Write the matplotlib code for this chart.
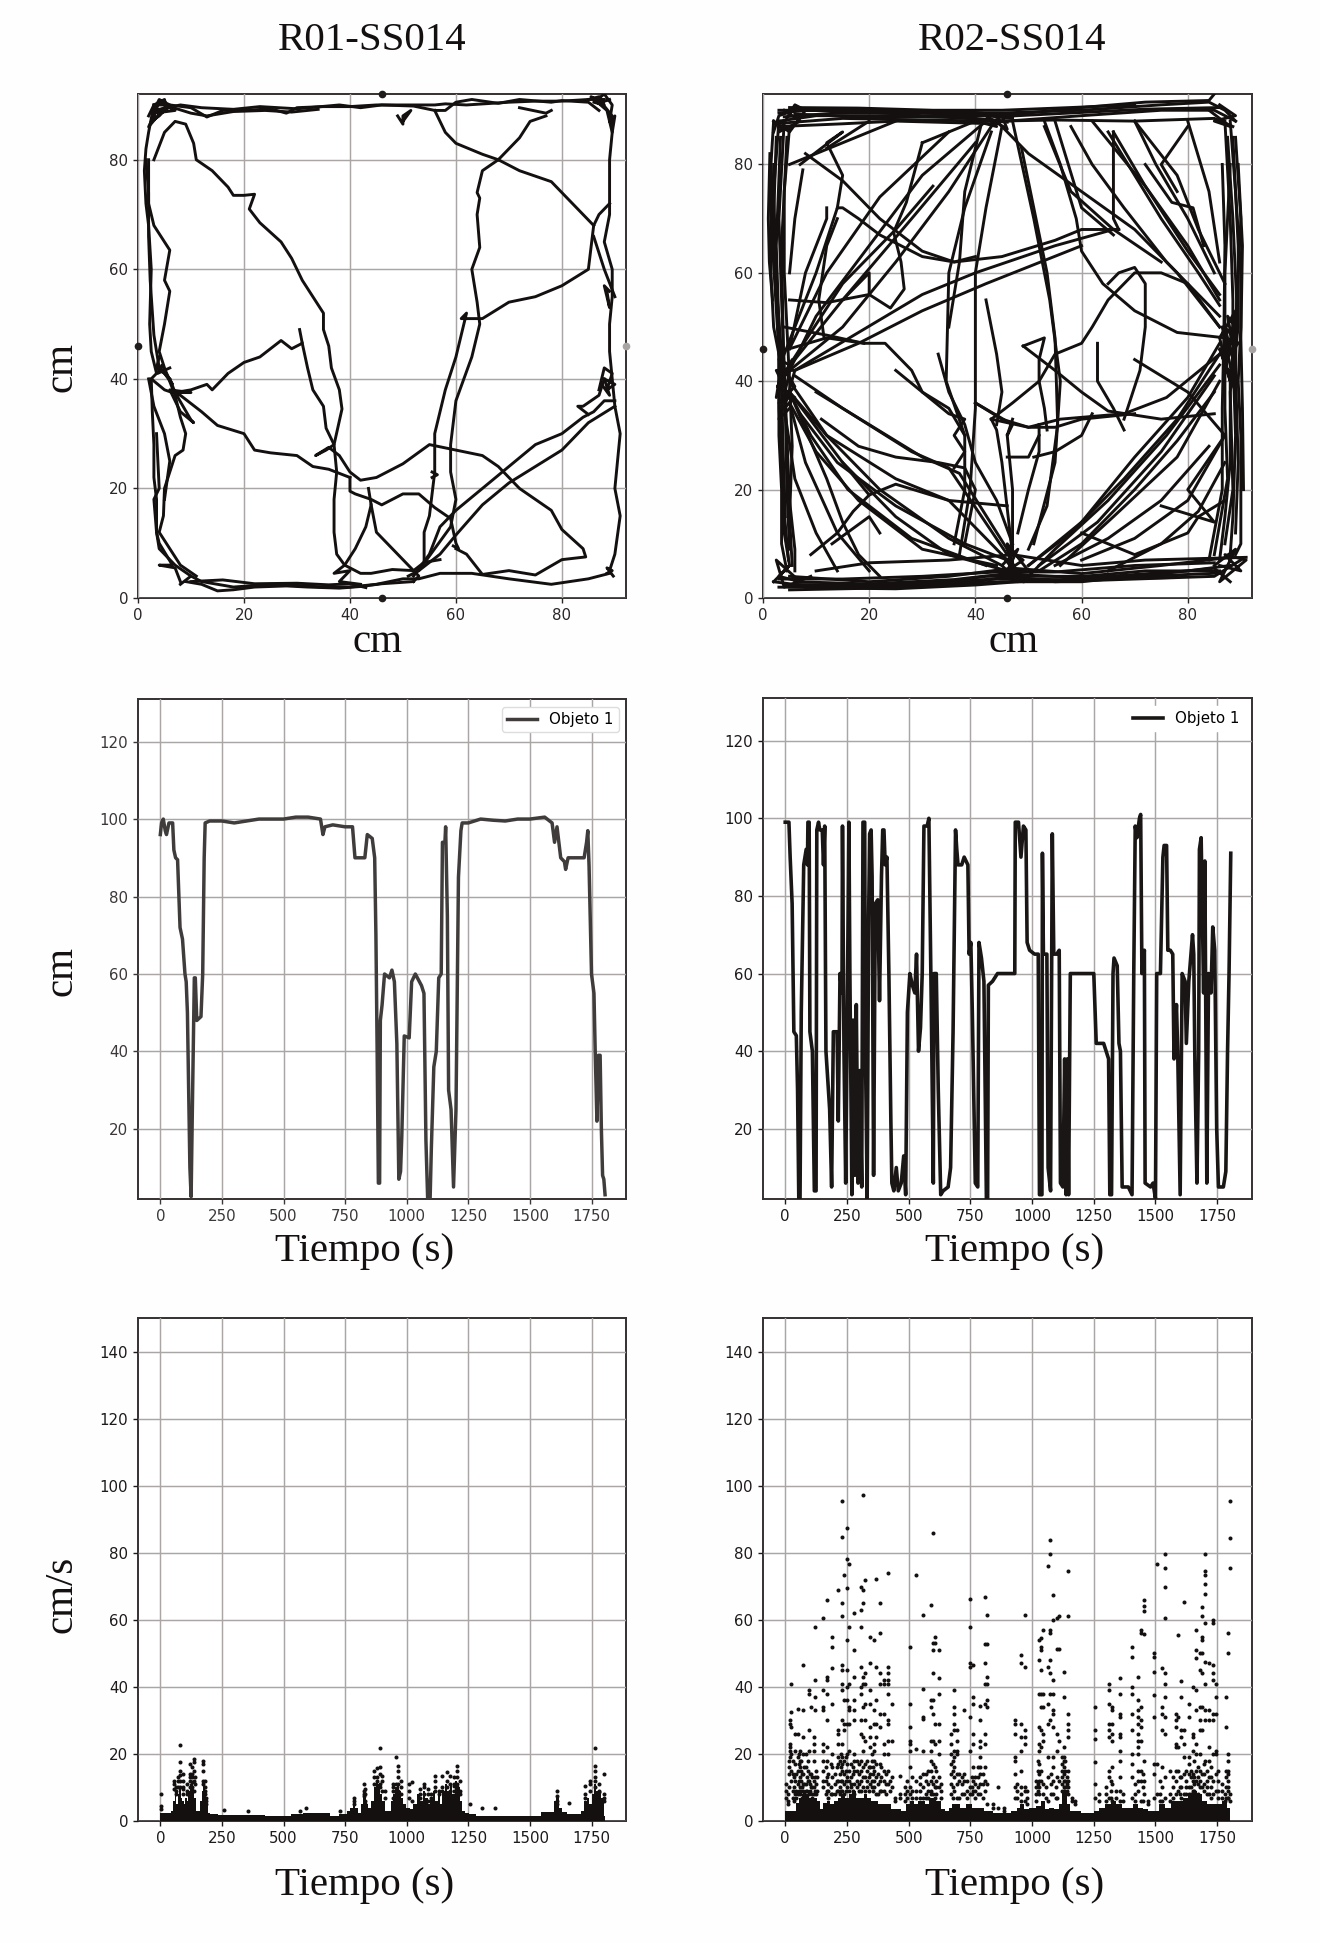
import matplotlib
matplotlib.use("Agg")
import matplotlib.pyplot as plt
import numpy as np

W, H = 1320, 1943
SERIF = ["Liberation Serif", "DejaVu Serif"]

titles = ["R01-SS014", "R02-SS014"]
time_ticks = [0, 250, 500, 750, 1000, 1250, 1500, 1750]
legend_label = "Objeto 1"

# ---------- R01 arena trajectory (cm) ----------
r01_top = [
    [(3,90),(6,90),(10,89.5),(13,87.8),(16,89),(20,89),(25,89.3),(28,88.5),(30,89.5),(35,89.7),(40,89.7),(45,90),(50,90),(53,90),(56,90),(58,90.2),(62,90),(70,90.5),(75,90.7),(80,90.7),(85,91),(88,91)],
    [(3,89),(8,90),(12,89.5),(18,89.2),(23,89.7),(30,89.3),(38,90),(42,89.5),(46,90),(52,89.8),(56,89),(58,89),(60,90.5),(63,91),(68,90.3),(72,91),(78,90.5),(80,90.8),(85,90.5),(87,89)],
    [(2,88),(3,90),(5,91),(5.5,89),(3,89),(4,91),(6,90),(4,88),(2.5,87),(4,90.5),(7,89),(3,88.5),(5,89.5),(2,86),(3,88)],
    [(85,91),(87,91.5),(88,90),(86,90.5),(88,92),(89.5,90),(89,87),(90,88),(89.5,85),(88.5,89),(85.5,91.5),(87.5,90.5),(89,91)],
    [(49,88),(50,86.5),(50,88),(51.5,89),(50,87)],
    [(72,89.5),(77,88.5),(78,89)],
    [(5,90),(10,88.5),(13,88),(18,88.8),(24,89),(29,88.7),(34,89.2)],
]
r01_edges = [
    [(3,90),(2,85),(1.5,82),(1.2,78),(1.5,72),(2,68),(2.5,60),(2.2,50),(2.5,45),(3.5,41),(2.5,40),(2.7,34),(3,28),(3,22),(3.5,18),(3.5,12),(4,9),(7,6),(10,4),(8,2.5)],
    [(2,80),(2,72),(3,68),(6,63.5),(5,58),(6,56),(5,50),(4,45),(5,42),(7,37),(8,33),(9,30),(8.5,27),(7,26),(5,20),(4.8,15),(4,12),(6,9),(8,6),(11,4)],
    [(1.5,80),(2,74),(2,66),(2.3,58),(3,48),(4,42),(6,40)],
    [(3.5,30),(4,20),(3,18),(3.5,12),(4,10),(6.5,6),(4,6),(7,5.5),(8,3)],
    [(10,4),(12,3),(18,2),(25,2.5),(30,2.3),(35,2),(40,2),(45,2.5),(50,3.5),(53,3.5),(57,4.5),(63,4.5),(70,3.5),(78,2.5),(85,3.5),(89,4.5)],
    [(9,3),(12,2.5),(15,1.3),(18,1.5),(22,2),(28,2.2),(32,2),(38,1.8),(42,2.1),(46,2.6),(52,3)],
    [(10,3),(16,3.3),(22,2.6),(30,2.7),(36,2.4),(40,2.6),(43,1.9)],
    [(89,5),(90,8),(91,15),(90,20),(91,30),(90,35),(89.5,40),(89,45),(89,50),(89.5,55),(89.5,60),(88,65),(89,70),(89,80),(89.5,85),(89.5,88),(87,91)],
    [(88.5,4.5),(89.5,5),(88.5,5.5),(89.7,4)],
    [(89,56),(88,57),(88.5,55),(89,53),(88.5,56)],
    [(87,38),(88,42),(89.5,41),(88.5,38),(90,39),(88,40),(89,37),(87.5,39)],
    [(4,44),(3.5,42),(5,41),(6.5,39),(4.5,42.5),(3.7,41),(6,42)],
]
r01_inner = [
    [(3,80),(5,85),(7,87),(9,86.5),(10.5,83),(11,80),(14,78),(17,75),(18,73.5),(20,73.5),(22,73.7),(21,71),(23,68.5),(27,65),(29,62),(31,58),(33,55),(35,52),(35,49),(36,46),(36.5,42),(38,38),(38.5,34.5),(37,28),(35.5,27),(33.5,26),(36,27.5),(38,26),(40,23),(42,21.5),(45,22),(50,24.5),(55,28),(60,27),(65,26),(68,24),(72,20),(78,16),(80,12.5),(84,9),(84.5,7.5),(80,7),(75,4.2),(70,5),(65,4.3),(62,8),(60,9)],
    [(4,42),(6,40),(7,37.5),(10,32.5),(10.5,32),(8,34),(6,38),(10,37.5),(7,37.5),(10,38),(13,39),(14,38),(17,41),(20,43),(23,44),(27,47),(29,45.5),(31,46.5),(30.5,49)],
    [(2.5,40),(5,38),(8,37),(12,34),(15,31.5),(20,30),(22,27),(25,26.5),(30,26),(33,24),(36,23.5),(40,22)],
    [(31,46.5),(32,42),(33,38),(35,35),(35.5,31),(37,28),(37.5,23),(37,18),(37,12),(37.5,8),(39,6),(42,4.5),(44,4.5),(48,5.2),(52,5),(54,6.5),(57,7)],
    [(40,22),(40,19.5),(41,19),(44,18),(46,17),(50,19),(53,19),(56,16.5),(59,14.5),(60,10),(60.5,9),(59.5,9.5)],
    [(43.5,20),(44,17),(43,13),(41,9),(39,6),(37,4.5),(40,5),(38,3),(42,2.5)],
    [(44,17),(45,12),(48,9),(51,6),(53,4),(52,3)],
    [(90,36),(88,36),(86,34),(84,33),(80,30),(75,28),(70,24),(65,20),(60,16),(57,13),(55,8),(52,4)],
    [(90,35),(85,32),(80,27),(75,24),(70,21),(65,17),(60,11.5),(57,8),(53,5)],
    [(88,40),(87,37),(84,35),(83,35),(85,33.5)],
    [(54,7),(54,12),(55,15),(56,23),(56,30),(58,38),(60,44),(62,52),(61,51),(65,51),(70,54),(75,55),(80,57),(85,60),(86,68),(87,70),(89,72)],
    [(86,68),(80,74),(78,76),(72,78),(70,79),(68,80),(65,81),(60,83),(58,85),(56,89)],
    [(68,80),(72,84),(74,87),(77,88)],
    [(68,80),(65,78),(64,74),(64.5,73),(64,70),(64.5,64),(63,60),(64,54),(64.5,50),(63,44),(60,36),(59,28),(59,23),(60,18),(59,13),(56,9),(53,5),(51,4)],
    [(86,66),(88,60),(90,55)],
    [(55.5,23),(56.5,22.5),(55.5,22)],
    [(2,40),(3,35),(5,30),(6,25),(5,18)],
]

# ---------- R02 arena trajectory (cm) ----------
r02_edges = [
    [(2,86),(3,89),(6,90),(20,89.8),(35,89.5),(45,89.5),(60,90),(75,91),(84,91.5),(87,90),(89,88)],
    [(3,88),(10,89),(25,89),(40,88.5),(46,88),(60,89),(75,90),(85,90),(89,88)],
    [(2,87.5),(15,88.5),(30,88.2),(44,88),(55,88.2),(70,88),(85,88.5),(88.5,87)],
    [(3,90),(15,90),(30,89),(45,89),(60,90.5),(72,91.5),(84,91.8),(85,93)],
    [(2,88),(1.5,80),(1.5,70),(1.5,60),(2,50),(3,45),(3,40),(3,30),(3.5,20),(3.5,10),(4.5,5)],
    [(3,88),(2,75),(2.5,60),(3,48),(3.5,40),(3.5,25),(4,12),(5,6)],
    [(4,88),(3,70),(3.5,55),(4,42),(4.5,30),(5,18),(6,9),(6,5)],
    [(5,87),(4,75),(4,60),(4.5,50),(5,40),(5.5,28),(5,15),(5.5,6)],
    [(2,3),(10,2),(25,2.2),(40,3),(47,4),(55,3),(70,3.5),(85,4),(90,7)],
    [(3,2),(15,2),(30,2.5),(42,4),(50,4),(65,4),(80,5),(88,6)],
    [(5,1.5),(20,1.8),(35,2.5),(45,3),(60,3),(75,4.5),(85,5.5),(88,3)],
    [(5,4),(20,3),(35,4),(47,5.5),(60,4.5),(75,6),(88,7.5)],
    [(10,5),(20,6.5),(35,7),(47,8),(60,6),(72,7),(91,7.5)],
    [(88,88),(89,75),(90,60),(90,50),(89.5,40),(90,30),(90,20),(90,10),(89,8)],
    [(87,88),(88,70),(88.5,55),(88.5,45),(89,30),(88.5,15),(88,8)],
    [(89,85),(90,70),(89,50),(88,40),(88,25),(87,15),(86,7)],
    [(88,80),(87,60),(87,50),(87,35),(87.5,22),(85,8)],
    [(3,89.5),(12,90.3),(25,90),(38,89.8),(46,89)],
    [(4,88.8),(14,89.5),(28,89.5),(40,89.2),(47,88.5)],
    [(3,87),(15,87.5),(25,88),(44,87.5)],
    [(5,90.5),(18,90.4),(32,90),(45,90),(58,90.5),(70,91)],
    [(6,89.3),(20,88.7),(35,88.8),(46,87.8)],
    [(44,88.8),(58,89.5),(72,90.2),(86,90.5)],
    [(2.5,85),(2,70),(2.7,55),(3.5,45),(3.7,30),(4.2,15)],
    [(3.3,85),(2.5,65),(3,50),(3,35),(3.8,18),(4.8,7)],
    [(4.5,85),(3.5,65),(3.8,48),(4.2,35),(4.5,20),(5,9)],
    [(1.3,82),(1,70),(1.2,62),(1.8,55)],
    [(2,80),(1.8,65),(3,45)],
    [(4,2.5),(18,2.4),(32,3),(44,3.5),(56,3.4),(72,4),(86,4.6)],
    [(6,3),(20,2.6),(36,3.4),(46,4.5),(58,3.8),(72,5),(86,5)],
    [(8,1.9),(25,1.7),(40,2.4),(48,3),(62,3.5),(78,3.8)],
    [(3,3.5),(15,3.5),(30,4),(44,4.8),(55,4.8),(70,6),(85,6.5)],
    [(87.5,85),(88.5,70),(89.2,55),(89,42),(89.5,25),(89,12)],
    [(88.5,85),(89.5,65),(89.5,50),(88,38),(88.5,20),(87,10)],
    [(89.5,80),(90.3,65),(90,48),(90.3,35),(90.5,20)],
    [(86.5,80),(87,65),(86.8,48),(86.5,35),(86.5,20),(84,7)],
    [(3,40),(2.5,37),(5,43),(3,44),(6,39),(3,36),(5,37),(2.5,42),(6,42),(4,35),(6,37),(2.7,39),(5.5,44),(3,33),(5,35)],
    [(87,48),(89,44),(87.5,52),(89,50),(87,44),(89.5,47),(87,50),(89,42),(87,42),(89,53),(86,48),(88,40),(86,46),(89,38),(86.5,50)],
    [(45,8),(48,4),(46,9),(49,7),(46,5),(48,9),(45,6),(48,3),(44,5),(50,5),(46,10),(47,4),(44,4),(49,3)],
    [(2,3),(5,6),(3,4),(7,3),(2.5,7),(4,2),(9,4)],
    [(86,6),(90,5),(87,8),(91,7),(86,3),(89,9),(85,6)],
    [(4,90),(7,88),(3,86),(6,91),(8,90),(5,86),(2,88)],
    [(84,90),(88,87),(85,88),(89,89),(86,91)],
    [(40,88),(44,87),(42,89),(46,86.5),(45,89),(43,87.5)],
]
r02_left_fan = [
    [(5,42),(15,50),(25,62),(35,75),(43,87)],
    [(5,42),(10,52),(20,65),(30,78),(42,88)],
    [(6,42),(18,49),(30,56),(40,60),(55,65),(66,68)],
    [(6,42),(18,47),(30,53),(42,58),(60,65)],
    [(5,43),(15,58),(25,68),(32,76)],
    [(5,46),(12,60),(22,74),(35,86)],
    [(6,44),(15,55),(28,70),(40,84)],
    [(4,45),(10,60),(14,72),(15,72),(18,70),(22,67),(30,63),(36,62),(40,63)],
    [(5,46),(8,60),(12,70),(12,72)],
    [(4,50),(12,48.5),(19,47),(23,47),(28,42),(30,38),(35,35),(38,30)],
    [(5,38),(15,25),(25,15),(35,8),(46,5)],
    [(5,38),(12,30),(22,20),(35,11),(45,6)],
    [(5,36),(10,27),(18,18),(30,9),(44,6)],
    [(6,36),(9,30),(16,20),(28,11),(42,6)],
    [(7,34),(14,25),(25,17),(38,10),(46,7)],
    [(5,36),(8,25),(14,12),(20,5)],
    [(4,35),(6,22),(10,12),(14,5)],
    [(5,38),(12,22),(15,14),(18,8),(22,4)],
    [(6,41),(15,35),(28,27),(35,24),(46,8)],
    [(5,40),(12,30),(25,22),(35,18),(46,7)],
    [(5,55),(12,54.5),(20,56),(20,60),(15,55)],
    [(5,46),(12,48),(19,47)],
]
r02_right_fan = [
    [(86,47),(80,37),(70,26),(60,14),(50,6)],
    [(86,45),(78,33),(68,22),(58,12),(50,6)],
    [(86,43),(76,30),(65,18),(55,9),(50,4)],
    [(86,40),(78,26),(66,15),(56,6)],
    [(85,41),(75,27),(63,14),(52,6)],
    [(85,38),(78,29),(70,20),(60,10),(52,5)],
    [(84,28),(75,18),(65,11),(55,6)],
    [(87,30),(80,18),(70,11),(60,7)],
    [(87,25),(82,16),(75,10),(65,5)],
    [(86,45),(76,37),(68,34),(56,33),(50,31.5),(43,33)],
    [(86,50),(78,60),(70,68),(60,75),(50,82),(44,88)],
    [(86,52),(76,62),(68,72),(62,80),(58,87)],
    [(86,54),(82,60),(75,70),(70,78),(65,86)],
    [(86,56),(80,64),(72,76),(66,86)],
    [(85,60),(80,70),(74,80),(70,88)],
    [(87,48),(78,49),(70,53),(64,58),(60,64),(59,70),(56,80),(53,88)],
    [(70,88),(78,78),(82,68),(87,58)],
    [(62,88),(72,76),(80,65),(86,55)],
    [(80,88),(84,75),(86,62)],
    [(60,12),(70,8),(80,12),(82,15),(87,18)],
    [(75,17),(85,14),(80,20),(87,30),(80,38),(70,44)],
]
r02_inner = [
    [(47,8),(45,25),(44,31),(43,33)],
    [(47,10),(44,18),(40,25),(38,32),(35,38),(33,45)],
    [(48,12),(50,20),(52,27),(52,32)],
    [(47,9),(47,20),(46,30)],
    [(41,87),(38,75),(37,62),(35,50)],
    [(48.7,83),(53.5,60),(55,48),(55.5,32),(53.5,17),(50,9)],
    [(47,88),(51,70),(54,55),(56,40),(55,25),(51,10)],
    [(43,86),(38,72),(35,60),(34.5,40),(38,30),(38,20),(36,10)],
    [(45,87),(42,72),(40,60),(40,50),(40,35),(39,20),(37,8)],
    [(42,55),(44,45),(45,38),(44,32)],
    [(49,46.5),(53,48),(52,44),(52,40),(53,35),(53.5,31)],
    [(49,46.5),(55,42),(60,38),(65,34.5),(75,33),(85,34)],
    [(43,33),(47,36),(52,40),(55,45),(60,47),(62,50),(65,55),(68,58),(70,60),(75,60),(80,58),(86,50)],
    [(65,58),(67,60),(70,61),(72,58),(72,50),(71,42),(68,33)],
    [(63,47),(63,40),(66,35),(68,31)],
    [(40,36),(45,33),(50,31.5),(55,31.5),(60,33),(70,34)],
    [(51,26),(55,27),(60,30),(62,34)],
    [(8,82),(15,77),(22,70),(30,64),(36,62),(45,63),(55,66),(60,68),(67,68)],
    [(7,80),(15,86),(12,84),(15,78),(14,72)],
    [(7.5,79),(6,70),(5,60)],
    [(10,38),(20,32),(30,26),(37,23),(46,9)],
    [(11,33),(18,28),(25,26),(33,25),(38,24),(40,20),(38,10)],
    [(15,25),(20,19),(25,21),(35,18),(46,17)],
    [(20,19),(17,16),(14,12),(9,8)],
    [(30,84),(27,73),(24.6,67.5),(26,62),(26.6,57),(24,53.5),(20,56)],
    [(30,84),(40,88)],
    [(11.5,48),(10.5,55),(12,65),(14,70)],
    [(66,86),(66,70),(67,68)],
    [(55,88),(60,72),(66,67)],
    [(53,87),(58,75),(66,68),(75,62)],
    [(72,80),(77,73),(81,72),(83,65)],
    [(80,87),(75,80),(78,75)],
    [(46,26),(50,26),(52,30)],
    [(40,36),(47,32),(46,30),(47,33)],
    [(5,80),(15,84),(25,88)],
    [(12,83),(20,88)],
    [(25,42),(30,38),(35,34),(38,33),(36,30),(38,27),(36,24)],
    [(13,10),(20,15),(22,12)],
]

# ---------- Distance to object 1 ----------
r01_dist_t = [0,5,12,20,25,35,50,55,62,70,80,90,100,105,110,115,120,125,130,138,142,148,165,172,178,182,200,250,300,350,400,450,500,550,600,650,660,668,700,750,780,790,830,840,860,870,875,880,885,890,893,900,910,930,940,950,960,968,975,980,990,1010,1020,1035,1060,1070,1078,1085,1095,1100,1110,1120,1130,1140,1145,1155,1158,1165,1170,1180,1190,1200,1210,1220,1225,1250,1300,1350,1400,1450,1500,1560,1590,1600,1610,1625,1640,1645,1655,1700,1720,1730,1735,1740,1750,1760,1765,1772,1778,1785,1790,1795,1800,1805]
r01_dist_v = [96,99,100,97,96,99,99,92,90,89.5,72,69,60,58,50,30,10,2.5,25,59,59,48,49,60,90,99,99.5,99.5,99,99.5,100,100,100,100.5,100.5,100,96,98,98.5,98,98,90,90,96,95,90,70,40,6,6,48,52,60,59,61,58,42,7,9,18,44,43.5,58,60,57,55,17,2,2,15,36,40,59,60,94,94,98,75,30,25,5,25,85,97,99,99,100,99.7,99.5,100,100,100.5,99,94,98,90,89,87,90,90,90,94,97,88,60,55,40,22,39,39,20,8,7,3]
r02_dist_t = [0,15,20,28,35,45,50,55,60,65,75,85,90,92,97,100,110,118,125,128,135,140,150,155,160,165,180,188,195,210,215,222,230,232,238,245,250,258,262,270,275,282,288,295,302,310,315,322,325,332,338,342,348,352,358,365,375,382,390,395,400,405,412,420,428,432,440,450,458,470,480,488,495,505,515,525,532,540,548,555,562,575,582,592,600,603,612,620,630,640,660,670,680,690,695,700,715,725,740,745,752,758,770,780,785,795,805,815,820,823,840,860,900,930,932,945,955,965,975,980,990,1010,1025,1030,1040,1042,1046,1060,1065,1075,1082,1088,1100,1110,1115,1125,1132,1138,1143,1148,1155,1200,1250,1260,1290,1300,1310,1315,1322,1328,1332,1345,1352,1358,1365,1390,1405,1412,1418,1425,1435,1440,1445,1455,1458,1480,1490,1500,1505,1520,1530,1535,1545,1550,1560,1570,1575,1585,1590,1600,1608,1620,1625,1635,1650,1655,1660,1668,1675,1678,1685,1695,1700,1708,1715,1725,1732,1740,1748,1755,1775,1785,1792,1798,1805]
r02_dist_v = [99,99,90,78,45,44,30,2,2,50,88,92,88,99,99,45,40,4,4,97,99,97,97,88,98,40,25,5,45,45,22,60,55,98,40,6,40,99,60,3,48,8,52,6,35,5,99,99,40,2,75,96,97,85,8,78,79,53,85,97,97,88,90,60,22,6,4,10,4,6,13,3,50,60,57,55,65,40,46,60,98,98,100,50,6,60,60,30,3,4,5,10,45,97,92,88,88,90,88,65,68,50,6,5,68,64,58,2,2,57,58,60,60,60,99,99,90,98,97,68,66,65,65,3,3,91,65,65,10,4,96,65,65,66,6,5,38,3,38,3,60,60,60,42,42,40,38,3,3,60,64,62,42,40,5,5,3,60,98,95,100,101,60,66,6,5,6,2,60,60,90,93,93,66,66,65,38,52,40,3,60,58,42,58,70,65,35,6,40,92,95,55,89,6,60,55,72,66,20,5,5,9,40,60,91]

# ---------- Speed: dense lower band, upper limit read every few seconds ----------
r01_band_t = [0,40,50,56,62,68,74,80,86,92,98,104,110,116,122,128,134,140,146,152,160,166,172,178,184,190,196,210,260,350,500,560,600,680,700,750,765,775,785,795,810,820,828,838,850,862,872,880,888,896,905,915,930,940,948,956,964,972,980,990,1005,1020,1035,1050,1060,1070,1080,1090,1100,1110,1120,1130,1140,1150,1160,1170,1180,1190,1200,1210,1220,1230,1245,1260,1300,1500,1590,1602,1612,1622,1640,1660,1700,1715,1725,1735,1745,1755,1765,1775,1785,1795,1805]
r01_band_v = [2.5,2.5,3,6,8,5,8,10,7,6,5,7,6,9,11,12,10,7,3,3,3,6,9,11,8,5,2.5,2,1.8,1.8,1.6,2.2,2.4,2.4,1.5,2.2,3,4,5.5,4,2.5,5,8,5,4,6,10,12,11,8,6,3,3,6,8,10,11,9,7,5,4,3.5,5,8,6,9,7,5,7,9,6,8,5,9,11,9,11,8,12,10,6,3,2.5,2,1.6,1.4,2.6,6,7,4,2.8,2,2,3,6,7,5,8,11,9,8,7,1.5]
r02_band_t = [0,40,50,60,75,90,105,120,135,150,160,175,190,205,220,235,250,265,280,295,310,325,340,355,370,385,400,420,440,460,480,500,515,530,545,560,575,590,605,620,640,655,670,685,700,720,745,770,790,820,860,900,930,945,960,975,1000,1030,1045,1060,1080,1100,1115,1125,1135,1145,1160,1240,1260,1285,1310,1330,1350,1375,1400,1420,1440,1460,1480,1500,1525,1550,1575,1600,1620,1640,1660,1680,1700,1720,1740,1760,1780,1800]
r02_band_v = [3,3,5.5,7,8,8,7,7,6,3.5,5.5,6,5,6,7,8,7,8,9,7,7,8,7,6,6,5,5,5,3.5,3.5,3,5,6,5,6,6,5,7,7,6,3.5,3,4,5,5,4,5,4,4,3,2.5,2.5,3,4,5,3.5,4,4.5,6,3.5,4,3.5,5,9,9,5,3,2.5,3,4,5,6,5,4,4,5,4,3.5,3,3,5,4,6,6,7,8,9,8,6,5,5,5,6,4]

# (time, speeds) columns
r01_cols = [
    (2,[8.2,4.5,3.5]),(55,[9.5,12,11]),(62,[8,10,9]),(72,[10,13,12]),(80,[22.7,17.5,15,13.8,12,10]),(92,[12,9.5,8,14,10]),
    (108,[9,11,8]),(120,[17,14,12,10,13]),(128,[16,14,13,11.5,10]),(135,[18.5,15,12,9,17.5]),(140,[11,13]),
    (175,[17.8,17,15,12,11]),(180,[10,12,9,8]),(186,[7,5,6]),(258,[3.2]),(355,[3]),(565,[3]),(590,[3.8]),(730,[3]),
    (785,[7,6,5]),(825,[11,9,8,7.5]),(832,[8,6,5,9.5]),(868,[15,13,11]),(878,[15.7,13,12,10]),(890,[21.7,16,14,11,10]),(900,[13.5,12,9]),(912,[9,7]),
    (945,[10,9,7,11]),(955,[19.2,11,9,8]),(965,[16.5,15,13,11,9]),(975,[12,10,8]),(1010,[7,11,9]),(1020,[11.5,6]),
    (1055,[8,9.5,7]),(1070,[11,10,8]),(1085,[9.5,8,6]),(1100,[8,7]),(1115,[10,9,13.5,12]),(1130,[9,8]),(1145,[13.5,10,9]),
    (1165,[14.5,12,10]),(1175,[13.5,11,9]),(1190,[10.5,13,11,9]),(1205,[16.5,15,13,11,10]),(1215,[12,9,8]),(1255,[5.2]),(1305,[4]),(1360,[3.8]),
    (1610,[8.8,7.5,6,5]),(1660,[5.5]),(1725,[8,7,10.5]),(1745,[11,9,12]),(1765,[21.7,16.5,15,13,12,10]),(1780,[11,9,8.5]),(1800,[14,8,7,6]),
]
r02_cols = [
    (5,[7,9,11]),(15,[10,14,16,18]),(20,[22,23,19,21,30,29]),(25,[32.5,41,28,20,15,12]),(30,[18,14,9,7]),(40,[21,17,12,8,26]),(50,[33.5,26,19,15,11,8]),
    (60,[21,18,16,13,10,8]),(72,[46.5,25,33,20,14,11,9]),(85,[11,9,16,20]),(95,[39,38,27,21,12,8]),(105,[34,14,10]),(118,[25,23,21,18,12,10,8]),
    (122,[57.8,42,37,33,13,9]),(155,[60.5,39,34,33,23,21,15,18,12,10]),(168,[66,43,42,38,30,22,18,13,9]),(190,[55,52,45.7,35,20,16,13,8]),
    (215,[69,27,26,23,19,17,12,9]),(232,[95.5,84.7,65,61,46.5,45,41,39,30,23,19,17,15,12,9]),(240,[73.5,36,29,27,18,14,11,8]),(252,[87.5,78,69.5,54,45,40,36,29,20,17,13,10]),
    (260,[76.5,58,41,34,33,29,21,15,12,9]),(280,[62,51,43,36,33,30,20,18,15,11,8]),(305,[69.8,63,58,46,40,38,30,26,18,15,12,9]),(315,[97.2,69,65,43,41,34,25,21,16,13,10]),
    (325,[72,44,41,35,30,24,17,13,9]),(345,[54.8,47,39,35,28,25,22,16,14,11]),(360,[54,33,29,23,21,18,15,12,10]),(368,[72.2,46,36,29,25,17,13,8]),(385,[65,56,44,41,32,28,17,12,9]),
    (400,[42,41,32,23,20,15,12,9]),(418,[74,46,44,42,41,38,30,29,24,20,15,11]),(432,[35,24,13,10]),(465,[13.5,8,7]),(505,[52,35,28,24,23,21,16,10,8]),
    (530,[73.5,21.5,12,9,7]),(558,[61.3,39.5,31,30.5,21,14,10,7]),(590,[64.5,36,34,24,21,18,15,12,9,8]),(600,[86,53,51,44,36,32,24,17,13,11,8]),(605,[55,53,29,23,16,10,7]),(622,[51,42.5,38,29,24,20,13,10]),
    (672,[26,23,20,17,14,11,8]),(685,[39,34,32,29,27,21,19,16,13,9]),(695,[21,27,24,20,14,11,7]),(725,[33,14,12,8]),(748,[66.3,58,47,46,31,21,10,8]),(760,[46.5,37,35,26,23,16,12,9]),
    (790,[34.3,30,24,22,19,16,14,11,8]),(810,[66.7,52.7,47,41,35,26,23,16,12,9]),(818,[61.3,52.7,43,41,36,34,11,5]),(860,[10,4]),(930,[30,29,26,19,18,14,10,7]),(955,[49.5,47,29,25,21,15,10,8,6]),
    (970,[61.5,46,27,25,23,10,9,6]),(1030,[54,48,38,28,23,21,17,14,12,10,8]),(1038,[54.5,52,51,45,38,34,27,22,15,12]),(1045,[57,38,34,26,24,11,8]),(1065,[76,46,35,29,19,13,6]),(1072,[83.8,79.5,57,56,48,44,38,30]),
    (1085,[67.5,60,42,38,33,32,28,19,16,12,8]),(1100,[60.5,51.3,26,21,13,7]),(1108,[61,51.3,24,12]),(1130,[44.5,37,22,19,18,16,14,12,10,9]),(1145,[74.5,61,32,29,27,25,15,12,10,8]),(1175,[6,5]),
    (1255,[34,27,24.5,17.5,11,7]),(1310,[41,39,35,29,27,25,15,13,7]),(1325,[34,33,29,26,24,16,11,6]),(1355,[42.5,38,32,31,26,25,21,18,13,9,6]),(1405,[52,49,40,38,32,27,20,17,13,7]),(1430,[43,36,33,31,29,26,24,22,20,15,12,9]),
    (1440,[57,56,34,30,28,24,15,12,6]),(1455,[66,64,62.5,55.8,18,12,8]),(1495,[50,49,44.5,37.5,31,17,14,7]),(1505,[76.5,17,8]),(1525,[45.5,34,32,27,16,10,6]),(1540,[79.5,75.5,69.7,60.5,44,41,37,31,26,13,7]),
    (1585,[32,30,28,23,22,15,12,8]),(1590,[55.5,31,22,15,9]),(1605,[41.8,37,27,25,13,10,7]),(1615,[65.3,27,23,19,14,8]),(1635,[35,31,19,17,14,10,8]),(1650,[40,26,25,21,14,12,9]),(1665,[57,51,48.5,39,33,23,20,15,12]),
    (1680,[50,45,34,30,27,20,15,12,10]),(1690,[63.7,61,55,54,50,44,34,27,14,10]),(1700,[79.5,74.5,73.5,70.8,67.8,59,47.5,41,33,30,18]),(1715,[47,33,30,22,18,13,8]),(1735,[59.8,59,46.5,44,42,32,30,20,12,8]),
    (1745,[41,37,32,21,20,14,9]),(1785,[37,28,15,13,10,7]),(1792,[56,50.2,20,18,15,14,9,7]),(1800,[95.5,84.5,75.3,8,6]),
]
# Dense speckle just above the band, R02
r02_low_cols = [
    (10,[5,6,8]),(35,[10,13,6]),(45,[7,9,14]),(55,[12,17,20,9]),(65,[9,12,15,18]),(68,[10,14,7]),(78,[8,11,16]),(88,[9,13,7]),(92,[12,15,18]),(100,[9,11,14]),
    (110,[8,10,13,7]),(125,[11,15,8]),(130,[9,13]),(165,[8,12,16]),(175,[9,11,14,7]),(185,[8,10,17]),(200,[8,11,14]),(210,[9,12,16]),(222,[10,14,18,8]),(228,[12,16,20,9]),
    (245,[9,12,15,19]),(268,[10,13,17,11]),(275,[9,14,16,8]),(290,[10,12,15,18]),(298,[9,11,14,17]),(330,[10,15,18,12]),(338,[9,13,16]),(350,[10,12,18,20]),(355,[9,14,16]),(375,[8,11,14]),
    (390,[9,13,16]),(408,[8,11,14]),(425,[9,12]),(445,[6,7]),(485,[6,8,10]),(495,[7,9,12]),(515,[7,9,13]),(545,[7,9,11,13]),(570,[7,8,12,14]),(580,[7,9,11,15]),
    (612,[8,10,12,15]),(630,[7,9,11]),(680,[7,10,15,18]),(705,[7,12,14]),(715,[8,11,13]),(735,[7,9,12]),(755,[8,10,13]),(770,[7,9,11,13]),(782,[8,10,13,16]),(800,[7,11,14]),
    (840,[4,5]),(885,[4,3]),(940,[7,9,11]),(980,[5,7,9]),(1015,[6,8,10,12]),(1025,[9,11,15,18]),(1055,[7,10]),(1078,[8,11,14]),(1095,[7,10]),(1120,[9,11,13,15,17,19]),
    (1135,[10,12,15,18]),(1140,[9,11,13]),(1160,[6,7]),(1270,[6,8]),(1300,[6,8,10]),(1320,[7,9,12]),(1340,[7,9]),(1370,[6,8]),(1415,[6,8,11]),(1450,[6,10,14]),
    (1470,[5,6]),(1520,[6,8,12]),(1560,[6,8,15]),(1570,[7,10,13]),(1600,[8,10,13]),(1625,[8,10,12,15]),(1645,[8,10,13,15]),(1658,[9,11,13,18]),(1672,[8,11,13,16]),(1695,[9,11,14,17]),
    (1710,[8,10,12,15]),(1725,[7,10,13,16]),(1755,[7,9,12,15]),(1770,[7,9,11]),(1780,[6,8]),(1795,[7,10,12]),
]


def px_axes(fig, left, top, right, bottom):
    return fig.add_axes([left / W, 1 - bottom / H, (right - left) / W, (bottom - top) / H])


def style(ax, tick_color="#2a2626"):
    ax.grid(True, color="#aaa6a6", lw=1.05)
    ax.set_axisbelow(False)
    ax.tick_params(labelsize=10.8, colors=tick_color, length=3.5, width=1)
    for s in ax.spines.values():
        s.set_color("#353131")
        s.set_linewidth(1.4)


def label(fig, x, y, s, **kw):
    fig.text(x / W, 1 - y / H, s, family=SERIF, fontsize=29.5, ha="center", va="center", color="#141010", **kw)


fig = plt.figure(figsize=(W / 100, H / 100), dpi=100, facecolor="#fefefe")

# Row 1
for (rect, xl, yl, groups, lw) in [
    ((138, 94, 626, 598), 92.1, 92, [r01_top, r01_edges, r01_inner], 2.1),
    ((763, 94, 1252, 598), 92.1, 93, [r02_edges, r02_left_fan, r02_right_fan, r02_inner], 2.1),
]:
    ax = px_axes(fig, *rect)
    style(ax)
    for g in groups:
        for p in g:
            a = np.array(p)
            ax.plot(a[:, 0], a[:, 1], color="#141010", lw=lw, solid_joinstyle="round", zorder=3)
    ax.plot([46, 46, 0], [yl, 0, 46], "o", color="#201c1c", ms=4.5, clip_on=False, zorder=4)
    ax.plot([xl], [46], "o", color="#a8a4a4", ms=4.5, clip_on=False, zorder=4)
    ax.set_xlim(0, xl)
    ax.set_ylim(0, yl)
    ax.set_xticks([0, 20, 40, 60, 80])
    ax.set_yticks([0, 20, 40, 60, 80])

# Row 2
ax = px_axes(fig, 138, 699, 626, 1199)
style(ax, "#3c3838")
ax.plot(r01_dist_t, r01_dist_v, color="#403c3c", lw=2.5, label=legend_label, zorder=3)
ax.set_xlim(-90.6, 1890)
ax.set_ylim(1.9, 131)
ax.set_xticks(time_ticks)
ax.set_yticks([20, 40, 60, 80, 100, 120])
leg = ax.legend(loc="upper right", fontsize=10.8, fancybox=True, framealpha=1, edgecolor="#dddddd", borderaxespad=0.5, borderpad=0.35)
leg.set_zorder(5)

ax = px_axes(fig, 763, 698, 1252, 1199)
style(ax, "#1e1a1a")
ax.plot(r02_dist_t, r02_dist_v, color="#1a1616", lw=2.6, label=legend_label, zorder=3)
ax.set_xlim(-90, 1891)
ax.set_ylim(1.9, 131)
ax.set_xticks(time_ticks)
ax.set_yticks([20, 40, 60, 80, 100, 120])
leg = ax.legend(loc="upper right", fontsize=10.8, framealpha=1, edgecolor="white", borderaxespad=0.5, borderpad=0.35)
leg.set_zorder(5)

# Row 3
for rect, xlim, band_t, band_v, col_groups in [
    ((138, 1318, 626, 1821), (-90.6, 1890), r01_band_t, r01_band_v, [r01_cols]),
    ((763, 1318, 1252, 1821), (-90, 1891), r02_band_t, r02_band_v, [r02_cols, r02_low_cols]),
]:
    ax = px_axes(fig, *rect)
    style(ax, "#1e1a1a")
    ax.fill_between(band_t, 0, band_v, step="mid", color="#141010", lw=0, zorder=3)
    for cols in col_groups:
        xs = [t for t, vs in cols for _ in vs]
        ys = [v for _, vs in cols for v in vs]
        ax.plot(xs, ys, "o", color="#141010", ms=2.9, mew=0, zorder=3)
    ax.set_xlim(*xlim)
    ax.set_ylim(0, 150)
    ax.set_xticks(time_ticks)
    ax.set_yticks([0, 20, 40, 60, 80, 100, 120, 140])

# Texts
label(fig, 372, 40, titles[0])
label(fig, 1012, 40, titles[1])
label(fig, 377, 642, "cm")
label(fig, 1014, 642, "cm")
label(fig, 62, 367, "cm", rotation=90)
label(fig, 62, 971, "cm", rotation=90)
label(fig, 62, 1594, "cm/s", rotation=90)
label(fig, 365, 1251, "Tiempo (s)")
label(fig, 1015, 1251, "Tiempo (s)")
label(fig, 365, 1886, "Tiempo (s)")
label(fig, 1015, 1886, "Tiempo (s)")

fig.savefig("out.png", dpi=100, facecolor=fig.get_facecolor())
